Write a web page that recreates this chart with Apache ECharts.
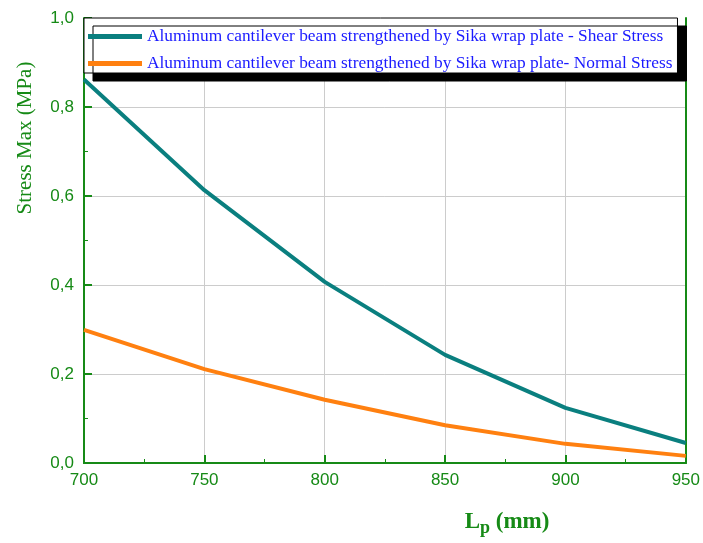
<!DOCTYPE html>
<html>
<head>
  <meta charset="UTF-8">
  <title>Stress Max vs Lp</title>
  <script src="https://cdn.jsdelivr.net/npm/echarts@6/dist/echarts.min.js"></script>
  <style>
    html, body { margin: 0; padding: 0; background: #fff; }
    #c1 { width: 703px; height: 543px; }
  </style>
</head>
<body>
<div id="c1"></div>
<script>
  // data
  var lpValues = [700, 750, 800, 850, 900, 950];
  var shearStress = [0.862, 0.613, 0.407, 0.243, 0.124, 0.045];
  var normalStress = [0.299, 0.211, 0.142, 0.085, 0.043, 0.016];
  var seriesNames = [
    'Aluminum cantilever beam strengthened by Sika wrap plate - Shear Stress',
    'Aluminum cantilever beam strengthened by Sika wrap plate- Normal Stress'
  ];

  var green = '#168a16';
  var myChart = echarts.init(document.getElementById('c1'));

  function pairs(xs, ys) {
    return xs.map(function (x, i) { return [x, ys[i]]; });
  }

  // plain frame axes for the top and right border
  var frameAxis = {
    axisLine: { show: true, lineStyle: { color: green, width: 2 } },
    axisTick: { show: false },
    axisLabel: { show: false },
    splitLine: { show: false }
  };

  var option = {
    animation: false,
    grid: { left: 84, right: 17, top: 18, bottom: 80 },
    legend: {
      left: 84, top: 18,
      orient: 'vertical',
      padding: [10, 5, 1, 4],
      itemGap: 10,
      itemWidth: 54, itemHeight: 5,
      icon: 'rect',
      backgroundColor: '#fff',
      borderColor: '#000', borderWidth: 1, borderRadius: 0,
      shadowColor: '#000', shadowBlur: 0, shadowOffsetX: 9, shadowOffsetY: 8,
      textStyle: { color: '#1a1aff', fontFamily: 'Liberation Serif', fontSize: 17.35 },
      data: seriesNames
    },
    xAxis: [
      {
        type: 'value',
        min: 700, max: 950, interval: 50,
        axisLine: { lineStyle: { color: green, width: 2 } },
        axisTick: { inside: true, length: 8, lineStyle: { color: green, width: 2 } },
        minorTick: { show: true, splitNumber: 2, length: 4, lineStyle: { color: green, width: 1 } },
        splitLine: { show: true, showMinLine: false, showMaxLine: false, lineStyle: { color: '#cccccc', width: 1 } },
        axisLabel: { color: green, fontFamily: 'Liberation Sans', fontSize: 17, margin: 9 }
      },
      Object.assign({ type: 'value', position: 'top', min: 700, max: 950 }, frameAxis)
    ],
    yAxis: [
      {
        type: 'value',
        min: 0, max: 1, interval: 0.2,
        axisLine: { show: true, lineStyle: { color: green, width: 2 } },
        axisTick: { show: true, inside: true, length: 8, lineStyle: { color: green, width: 2 } },
        minorTick: { show: true, splitNumber: 2, length: 4, lineStyle: { color: green, width: 1 } },
        splitLine: { show: true, showMinLine: false, showMaxLine: false, lineStyle: { color: '#cccccc', width: 1 } },
        axisLabel: {
          color: green, fontFamily: 'Liberation Sans', fontSize: 17, margin: 10,
          formatter: function (v) { return v.toFixed(1).replace('.', ','); }
        }
      },
      Object.assign({ type: 'value', position: 'right', min: 0, max: 1 }, frameAxis)
    ],
    graphic: [
      {
        type: 'text', x: 25, y: 138, rotation: Math.PI / 2,
        style: {
          text: 'Stress Max (MPa)', fill: green,
          font: '21px "Liberation Serif"', align: 'center', verticalAlign: 'middle'
        }
      },
      {
        type: 'text', x: 507, y: 522,
        style: {
          text: '{l|L}{p|p}{l| (mm)}', align: 'center', verticalAlign: 'middle',
          rich: {
            l: { fill: green, font: 'bold 23px "Liberation Serif"' },
            p: { fill: green, font: 'bold 18px "Liberation Serif"', padding: [12, 0, 0, 0] }
          }
        }
      }
    ],
    series: [
      {
        name: seriesNames[0], type: 'line', symbol: 'none',
        data: pairs(lpValues, shearStress),
        lineStyle: { color: '#0a7f7f', width: 4 },
        itemStyle: { color: '#0a7f7f' }
      },
      {
        name: seriesNames[1], type: 'line', symbol: 'none',
        data: pairs(lpValues, normalStress),
        lineStyle: { color: '#ff8010', width: 4 },
        itemStyle: { color: '#ff8010' }
      }
    ]
  };

  option && myChart.setOption(option);
</script>
</body>
</html>
